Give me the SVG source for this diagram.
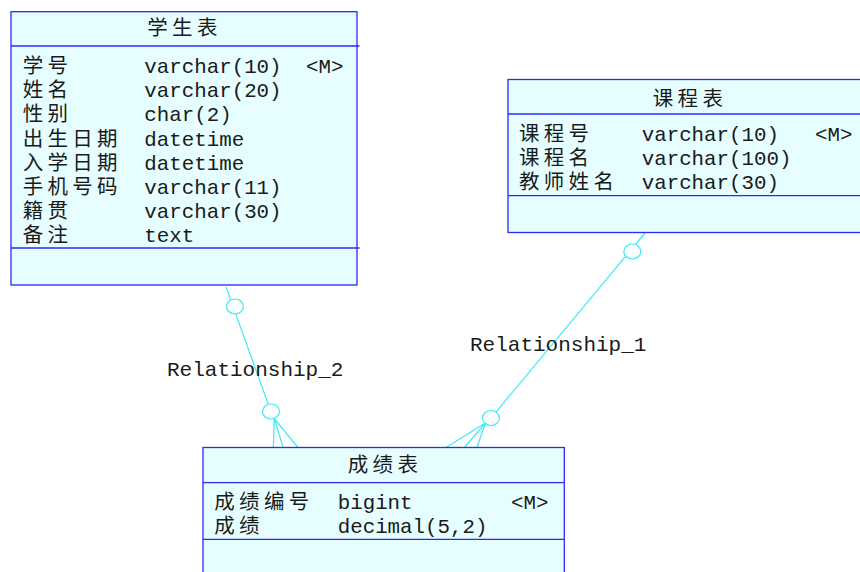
<svg xmlns="http://www.w3.org/2000/svg" width="860" height="572" viewBox="0 0 860 572">
<style>
.box{fill:#E6FEFF;stroke:#2A2AF5;stroke-width:1.3}
.div{stroke:#2A2AF5;stroke-width:1.3}
.cn{font-family:"Noto Sans CJK SC","Noto Sans CJK JP",sans-serif;font-size:20.5px;letter-spacing:4.3px;fill:#1a1a1a}
.mono{font-family:"Liberation Mono","DejaVu Sans Mono",monospace;font-size:20.8px;fill:#1a1a1a}
.title{font-family:"Noto Sans CJK SC","Noto Sans CJK JP",sans-serif;font-size:20.5px;letter-spacing:4.3px;fill:#1a1a1a;text-anchor:middle}
.rel{stroke:#3EEAF5;stroke-width:1.2;fill:none}
.knot{stroke:#3EEAF5;stroke-width:1.2;fill:#ffffff}
.lbl{font-family:"Liberation Mono","DejaVu Sans Mono",monospace;font-size:21px;fill:#1a1a1a}
</style>
<rect width="860" height="572" fill="#ffffff"/>
<g id="connectors">
  <g id="rel2">
    <line class="rel" x1="226" y1="287" x2="271" y2="412"/>
    <polyline class="rel" points="273.3,448 274.3,418.5 283.3,448"/>
    <line class="rel" x1="274.3" y1="418.5" x2="298.3" y2="448"/>
    <ellipse class="knot" cx="235" cy="306.5" rx="8.5" ry="7.5"/>
    <ellipse class="knot" cx="271" cy="411.5" rx="8.5" ry="7.5"/>
    <text class="lbl" x="167" y="376">Relationship_2</text>
  </g>
  <g id="rel1">
    <line class="rel" x1="645" y1="233" x2="491" y2="418"/>
    <polyline class="rel" points="445,448 485.5,423 464,448"/>
    <line class="rel" x1="485.5" y1="423" x2="476.7" y2="448"/>
    <ellipse class="knot" cx="632.3" cy="251.5" rx="8.5" ry="7.5"/>
    <ellipse class="knot" cx="491" cy="418" rx="8.5" ry="7.5"/>
    <text class="lbl" x="470" y="351">Relationship_1</text>
  </g>
</g>
<g id="student">
  <rect class="box" x="11" y="11.7" width="346" height="273.3"/>
  <line class="div" x1="11" y1="46" x2="359.5" y2="46"/>
  <line class="div" x1="11" y1="248" x2="359.5" y2="248"/>
  <text class="title" x="184.5" y="35">学生表</text>
  <text class="cn" x="22.7" y="73">学号</text>
  <text class="cn" x="22.7" y="97.2">姓名</text>
  <text class="cn" x="22.7" y="121.4">性别</text>
  <text class="cn" x="22.7" y="145.6">出生日期</text>
  <text class="cn" x="22.7" y="169.8">入学日期</text>
  <text class="cn" x="22.7" y="194">手机号码</text>
  <text class="cn" x="22.7" y="218.2">籍贯</text>
  <text class="cn" x="22.7" y="242.4">备注</text>
  <text class="mono" x="144.3" y="73">varchar(10)</text>
  <text class="mono" x="306" y="73">&lt;M&gt;</text>
  <text class="mono" x="144.3" y="97.2">varchar(20)</text>
  <text class="mono" x="144.3" y="121.4">char(2)</text>
  <text class="mono" x="144.3" y="145.6">datetime</text>
  <text class="mono" x="144.3" y="169.8">datetime</text>
  <text class="mono" x="144.3" y="194">varchar(11)</text>
  <text class="mono" x="144.3" y="218.2">varchar(30)</text>
  <text class="mono" x="144.3" y="242.4">text</text>
</g>
<g id="course">
  <rect class="box" x="508" y="79.5" width="356" height="153"/>
  <line class="div" x1="508" y1="114" x2="864" y2="114"/>
  <line class="div" x1="508" y1="195.7" x2="864" y2="195.7"/>
  <text class="title" x="690" y="106">课程表</text>
  <text class="cn" x="519" y="140.5">课程号</text>
  <text class="cn" x="519" y="164.8">课程名</text>
  <text class="cn" x="519" y="189">教师姓名</text>
  <text class="mono" x="641.7" y="140.5">varchar(10)</text>
  <text class="mono" x="815" y="140.5">&lt;M&gt;</text>
  <text class="mono" x="641.7" y="164.8">varchar(100)</text>
  <text class="mono" x="641.7" y="189">varchar(30)</text>
</g>
<g id="score">
  <rect class="box" x="203" y="447.5" width="361.3" height="130"/>
  <line class="div" x1="203" y1="482.7" x2="564.3" y2="482.7"/>
  <line class="div" x1="203" y1="539.3" x2="564.3" y2="539.3"/>
  <text class="title" x="385" y="472">成绩表</text>
  <text class="cn" x="214.3" y="509.3">成绩编号</text>
  <text class="cn" x="214.3" y="533">成绩</text>
  <text class="mono" x="337.7" y="509.3">bigint</text>
  <text class="mono" x="511" y="509.3">&lt;M&gt;</text>
  <text class="mono" x="337.7" y="533">decimal(5,2)</text>
</g>
</svg>
